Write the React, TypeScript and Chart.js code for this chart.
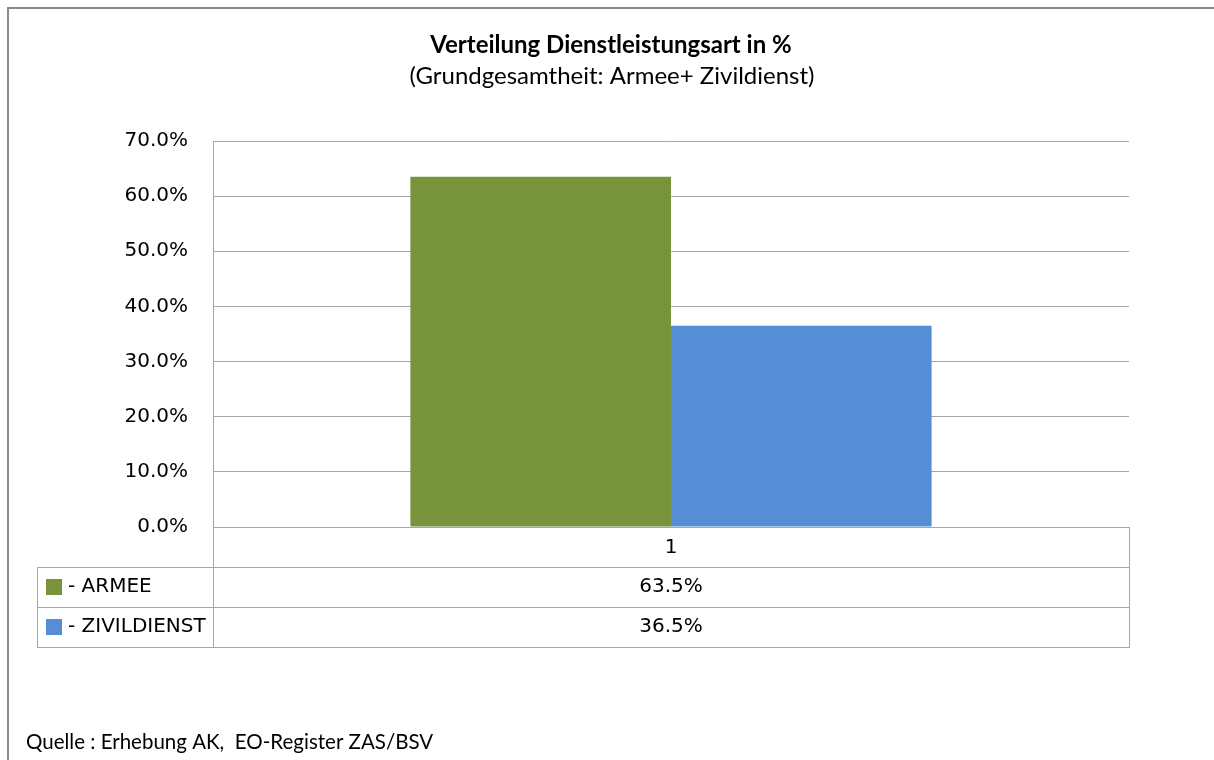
import React, { useEffect, useRef } from "react";
import { Chart, registerables } from "chart.js";

Chart.register(...registerables);

const categories = ["1"];
const seriesNames = ["- ARMEE", "- ZIVILDIENST"];
const armee = [63.5];
const zivildienst = [36.5];
const seriesColors = ["#77933C", "#558ED5"];
const yTicks = [0, 10, 20, 30, 40, 50, 60, 70];
const titleText = "Verteilung Dienstleistungsart in %";
const subtitleText = "(Grundgesamtheit: Armee+ Zivildienst)";
const sourceText = "Quelle : Erhebung AK,  EO-Register ZAS/BSV";

const GRID = "#a6a6a6";
const TICK_FONT = "20px 'DejaVu Sans'";

const extrasPlugin = {
  id: "extras",
  afterDraw(chart: any) {
    const ctx = chart.ctx as CanvasRenderingContext2D;
    const area = chart.chartArea;
    const x = chart.scales.x;
    const w = chart.width;
    ctx.save();
    // outer frame
    ctx.strokeStyle = "#8a8a8a";
    ctx.lineWidth = 2;
    ctx.beginPath();
    ctx.moveTo(8, chart.height + 5);
    ctx.lineTo(8, 8);
    ctx.lineTo(w + 5, 8);
    ctx.stroke();

    // titles
    ctx.fillStyle = "#000";
    ctx.textAlign = "center";
    ctx.textBaseline = "middle";
    ctx.font = "bold 24px Lato";
    ctx.fillText(titleText, 611, 45);
    ctx.font = "24px Lato";
    ctx.fillText(subtitleText, 612, 76);

    // source
    ctx.textAlign = "left";
    ctx.font = "20.5px Lato";
    ctx.fillText(sourceText, 26, 742);

    // data table
    const rowH = 40;
    const top = area.bottom;
    const left = 37;
    const right = area.right;
    ctx.strokeStyle = GRID;
    ctx.lineWidth = 1;
    ctx.beginPath();
    ctx.moveTo(area.left + 0.5, top);
    ctx.lineTo(area.left + 0.5, top + rowH * 3);
    ctx.moveTo(right + 0.5, top);
    ctx.lineTo(right + 0.5, top + rowH * 3);
    ctx.moveTo(left + 0.5, top + rowH);
    ctx.lineTo(left + 0.5, top + rowH * 3);
    for (let r = 1; r <= 3; r++) {
      const yy = Math.round(top + rowH * r) + 0.5;
      ctx.moveTo(left, yy);
      ctx.lineTo(right + 1, yy);
    }
    ctx.stroke();

    const values = [armee, zivildienst];
    ctx.font = TICK_FONT;
    for (let s = 0; s < seriesNames.length; s++) {
      const cy = top + rowH * (s + 1) + rowH / 2;
      ctx.fillStyle = seriesColors[s];
      ctx.fillRect(46, cy - 8, 16, 16);
      ctx.fillStyle = "#000";
      ctx.textAlign = "left";
      ctx.fillText(seriesNames[s], 68, cy);
      ctx.textAlign = "center";
      for (let c = 0; c < categories.length; c++) {
        ctx.fillText(values[s][c].toFixed(1) + "%", x.getPixelForValue(c), cy);
      }
    }
    ctx.restore();
  },
};

export default function App() {
  const ref = useRef<HTMLCanvasElement | null>(null);
  useEffect(() => {
    if (!ref.current) return;
    const chart = new Chart(ref.current, {
      type: "bar",
      data: {
        labels: categories,
        datasets: [
          {
            label: seriesNames[0],
            data: armee,
            backgroundColor: seriesColors[0],
            borderWidth: 0,
            barPercentage: 1,
            categoryPercentage: 0.569,
          },
          {
            label: seriesNames[1],
            data: zivildienst,
            backgroundColor: seriesColors[1],
            borderWidth: 0,
            barPercentage: 1,
            categoryPercentage: 0.569,
          },
        ],
      },
      options: {
        animation: false,
        responsive: false,
        events: [],
        layout: { padding: { top: 141, left: 0, right: 85, bottom: 193 } },
        plugins: {
          legend: { display: false },
          tooltip: { enabled: false },
          title: { display: false },
        },
        scales: {
          x: {
            grid: { display: false, drawTicks: false },
            border: { display: true, color: GRID, width: 1 },
            ticks: {
              color: "#000",
              font: { family: "DejaVu Sans", size: 20 },
              padding: 9,
            },
            afterFit: (s: any) => {
              s.height = 40;
            },
          },
          y: {
            min: 0,
            max: 70,
            afterBuildTicks: (s: any) => {
              s.ticks = yTicks.map((v) => ({ value: v }));
            },
            grid: { color: GRID, drawTicks: false },
            border: { display: true, color: GRID, width: 1 },
            ticks: {
              color: "#000",
              font: { family: "DejaVu Sans", size: 20 },
              padding: 25,
              callback: (v: any) => Number(v).toFixed(1) + "%",
            },
            afterFit: (s: any) => {
              s.width = 213;
            },
          },
        },
      },
      plugins: [extrasPlugin],
    });
    return () => chart.destroy();
  }, []);
  return (
    <div style={{ position: "fixed", left: 0, top: 0, width: 1214, height: 760, background: "#fff" }}>
      <canvas ref={ref} width={1214} height={760} style={{ width: 1214, height: 760 }} />
    </div>
  );
}
